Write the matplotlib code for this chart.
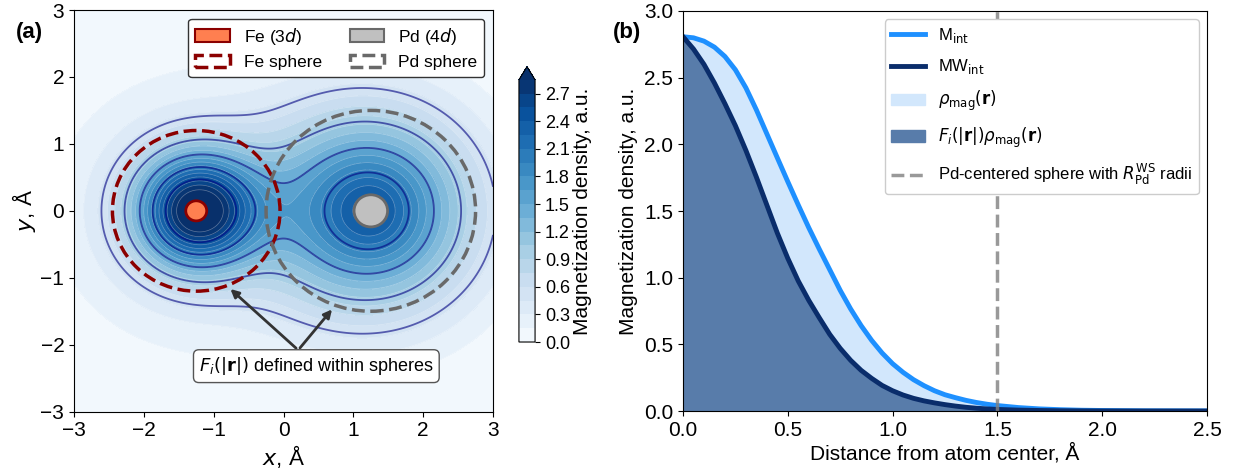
import matplotlib
matplotlib.use("Agg")
import matplotlib.pyplot as plt
import numpy as np
from matplotlib.patches import Circle, Patch

# panel (a): model density built from two atoms (main + secondary gaussian each)
atom_names = ["Fe", "Pd"]
atom_x = [-1.25, 1.25]
main_amp = [2.7, 2.1]
main_sigma = [0.63, 1.05]
extra_amp = [0.35, 0.3]
extra_sigma = [1.5, 0.4]
sphere_radius = [1.2, 1.5]
marker_radius = [0.15, 0.24]

# panel (b): radial profiles
r_vals = [0.0, 0.05, 0.1, 0.15, 0.2, 0.25, 0.3, 0.35, 0.4, 0.45, 0.5, 0.55,
          0.6, 0.65, 0.7, 0.75, 0.8, 0.85, 0.9, 0.95, 1.0, 1.05, 1.1, 1.15,
          1.2, 1.25, 1.3, 1.35, 1.4, 1.45, 1.5, 1.6, 1.7, 1.8, 1.9, 2.0,
          2.2, 2.5]
m_int = [2.807, 2.799, 2.774, 2.729, 2.659, 2.559, 2.424, 2.259, 2.079, 1.899,
         1.72, 1.545, 1.375, 1.215, 1.06, 0.905, 0.765, 0.64, 0.53, 0.435,
         0.355, 0.29, 0.235, 0.19, 0.152, 0.122, 0.10, 0.08, 0.064, 0.051,
         0.041, 0.026, 0.016, 0.010, 0.006, 0.004, 0.0015, 0.0005]
mw_int = [2.807, 2.715, 2.60, 2.46, 2.305, 2.14, 1.955, 1.755, 1.545, 1.335,
          1.145, 0.975, 0.83, 0.70, 0.575, 0.47, 0.38, 0.305, 0.245, 0.192,
          0.152, 0.12, 0.095, 0.076, 0.061, 0.048, 0.037, 0.028, 0.021, 0.016,
          0.012, 0.007, 0.004, 0.002, 0.001, 0.0005, 0.0, 0.0]
r_ws_pd = 1.5

plt.rcParams["font.family"] = ["Liberation Sans", "DejaVu Sans"]
plt.rcParams["mathtext.fontset"] = "dejavusans"

fig = plt.figure(figsize=(12.4, 4.72), dpi=100)
ax1 = fig.add_axes([0.0597, 0.1278, 0.3379, 0.8510])
cax = fig.add_axes([0.4185, 0.2754, 0.013, 0.5833])
ax2 = fig.add_axes([0.5508, 0.1292, 0.4226, 0.8475])

# ---- (a) density map
xg = np.linspace(-3, 3, 400)
X, Y = np.meshgrid(xg, xg)
Z = np.zeros_like(X)
for i in range(len(atom_x)):
    R2 = (X - atom_x[i]) ** 2 + Y ** 2
    Z += main_amp[i] * np.exp(-R2 / (2 * main_sigma[i] ** 2))
    Z += extra_amp[i] * np.exp(-R2 / (2 * extra_sigma[i] ** 2))

levels = np.arange(0, 2.86, 0.15)
cf = ax1.contourf(X, Y, Z, levels=levels, cmap="Blues", extend="max")
ax1.contour(X, Y, Z, levels=levels, colors="white", linewidths=0.5, alpha=0.35)
ax1.contour(X, Y, Z, levels=[0.5, 1.0, 1.5, 2.0, 2.5], colors="navy",
            linewidths=1.3, alpha=0.6)

cb = fig.colorbar(cf, cax=cax)
cb.set_ticks(np.arange(0, 2.71, 0.3))
cb.ax.tick_params(labelsize=13)
cb.set_label("Magnetization density, a.u.", fontsize=15, labelpad=2)

fe_c, pd_c = "#ff7f50", "#c0c0c0"
ax1.add_patch(Circle((atom_x[0], 0), marker_radius[0], fc=fe_c, ec="darkred", lw=2, zorder=5))
ax1.add_patch(Circle((atom_x[1], 0), marker_radius[1], fc=pd_c, ec="dimgray", lw=2, zorder=5))
ax1.add_patch(Circle((atom_x[0], 0), sphere_radius[0], fill=False, ec="darkred",
                     lw=2.5, ls="--", zorder=4))
ax1.add_patch(Circle((atom_x[1], 0), sphere_radius[1], fill=False, ec="dimgray",
                     lw=2.5, ls="--", zorder=4))

handles = [Patch(fc=fe_c, ec="darkred", lw=1.5, label="Fe (3$d$)"),
           Patch(fill=False, ec="darkred", lw=2.5, ls="--", label="Fe sphere"),
           Patch(fc=pd_c, ec="dimgray", lw=1.5, label="Pd (4$d$)"),
           Patch(fill=False, ec="dimgray", lw=2.5, ls="--", label="Pd sphere")]
ax1.legend(handles=handles, ncol=2, loc="upper right", fontsize=12.5,
           framealpha=1, edgecolor="#333333", fancybox=True, columnspacing=1.6)

for tgt in [(-0.79, -1.14), (0.72, -1.44)]:
    ax1.annotate("", xy=tgt, xytext=(0.21, -2.08),
                 arrowprops=dict(arrowstyle="-|>", color="#333333", lw=2,
                                 mutation_scale=12))
ax1.text(0.47, -2.32, r"$F_i(|\mathbf{r}|)$ defined within spheres", fontsize=13,
         ha="center", va="center",
         bbox=dict(boxstyle="round,pad=0.3", fc="white", ec="#555555"))

ax1.set_xlim(-3, 3)
ax1.set_ylim(-3, 3)
ax1.set_xlabel("$x$, Å", fontsize=16, labelpad=2)
ax1.set_ylabel("$y$, Å", fontsize=16, labelpad=2)
ax1.tick_params(labelsize=15)

# ---- (b) radial profiles
ax2.fill_between(r_vals, m_int, color="#d2e7fc", label=r"$\rho_{\mathrm{mag}}(\mathbf{r})$")
ax2.fill_between(r_vals, mw_int, color="#587caa",
                 label=r"$F_i(|\mathbf{r}|)\rho_{\mathrm{mag}}(\mathbf{r})$")
ax2.plot(r_vals, m_int, color="#1e90ff", lw=3.5, label=r"M$_{\mathrm{int}}$")
ax2.plot(r_vals, mw_int, color="#0a2d6b", lw=3.5, label=r"MW$_{\mathrm{int}}$")
ax2.axvline(r_ws_pd, color="gray", ls="--", lw=2.5, alpha=0.8,
            label=r"Pd-centered sphere with $R_{\mathrm{Pd}}^{\mathrm{WS}}$ radii")

h, l = ax2.get_legend_handles_labels()
order = [2, 3, 0, 1, 4]
ax2.legend([h[i] for i in order], [l[i] for i in order], loc="upper right",
           fontsize=12, framealpha=1, labelspacing=0.75)
ax2.set_xlim(0, 2.5)
ax2.set_ylim(0, 3.0)
ax2.set_xlabel("Distance from atom center, Å", fontsize=15, labelpad=2)
ax2.set_ylabel("Magnetization density, a.u.", fontsize=15, labelpad=4)
ax2.tick_params(labelsize=15)

fig.text(0.024, 0.932, "(a)", fontsize=16, fontweight="bold", ha="center", va="center")
fig.text(0.506, 0.932, "(b)", fontsize=16, fontweight="bold", ha="center", va="center")

fig.savefig("out.png", dpi=100)
plt.close(fig)
